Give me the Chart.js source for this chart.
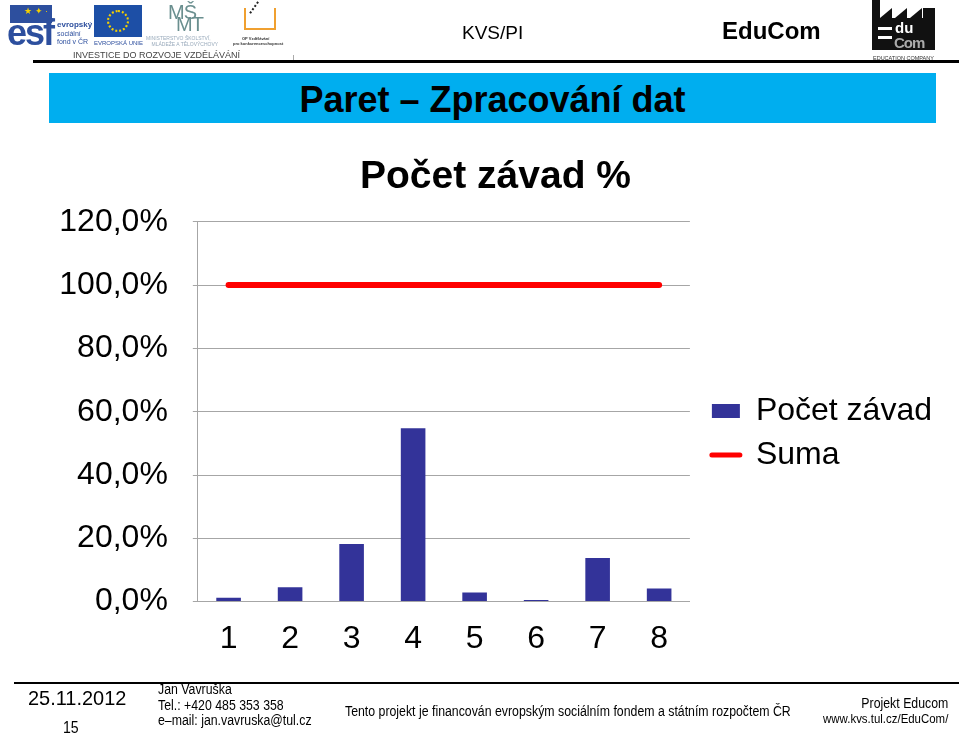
<!DOCTYPE html>
<html>
<head>
<meta charset="utf-8">
<script src="https://cdn.jsdelivr.net/npm/chart.js@4.4.1/dist/chart.umd.min.js"></script>
<style>
  html, body { margin: 0; padding: 0; background: #fff; }
  #slide { position: relative; width: 959px; height: 736px; overflow: hidden; font-family: "Liberation Sans", Arial, sans-serif; }
  #chart { position: absolute; left: 0; top: 0; }
  .abs { position: absolute; white-space: nowrap; }
  .narrow { transform: scaleX(0.88); transform-origin: left top; }
  .narrowR { transform: scaleX(0.88); transform-origin: right top; }
</style>
</head>
<body>
<div id="slide">
  <canvas id="chart" width="959" height="736"></canvas>

  <!-- header -->
  <div class="abs" style="left:10px;top:5px;width:42px;height:18px;background:#2d4f9e;"></div>
  <div class="abs" style="left:24px;top:7px;font-size:9px;line-height:9px;color:#f5d000;">★ ✦ ·</div>
  <div class="abs" style="left:7px;top:15px;font:bold 36px/36px 'Liberation Sans',sans-serif;color:#2d4f9e;letter-spacing:-2px;">esf</div>
  <div class="abs" style="left:57px;top:21px;font:bold 8px/8px 'Liberation Sans',sans-serif;color:#2d4f9e;">evropský</div>
  <div class="abs" style="left:57px;top:30px;font:7px/7.5px 'Liberation Sans',sans-serif;color:#2d4f9e;">sociální<br>fond v ČR</div>
  <div class="abs" style="left:94px;top:5px;width:48px;height:32px;background:#1d4fa6;"></div>
  <div class="abs" style="left:107px;top:10px;width:18px;height:18px;border:2px dotted #f5d000;border-radius:50%;"></div>
  <div class="abs" style="left:94px;top:40px;font:6px/6px 'Liberation Sans',sans-serif;color:#2d4f9e;">EVROPSKÁ UNIE</div>
  <div class="abs" style="left:168px;top:2px;font:20px/20px 'Liberation Sans',sans-serif;color:#6a8f8f;letter-spacing:-1px;">MŠ</div>
  <div class="abs" style="left:176px;top:14px;font:20px/20px 'Liberation Sans',sans-serif;color:#6a8f8f;letter-spacing:-1px;">MT</div>
  <div class="abs" style="left:146px;top:35px;font:5px/6px 'Liberation Sans',sans-serif;color:#9ab;">MINISTERSTVO ŠKOLSTVÍ,<br>&nbsp;&nbsp;&nbsp;&nbsp;MLÁDEŽE A TĚLOVÝCHOVY</div>
  <div class="abs" style="left:244px;top:8px;width:28px;height:20px;border:2px solid #f0a030;border-top:none;"></div>
  <div class="abs" style="left:252px;top:4px;width:12px;height:14px;border-left:2px dotted #222;transform:rotate(35deg);"></div>
  <div class="abs" style="left:233px;top:36px;font:bold 4px/5px 'Liberation Sans',sans-serif;color:#333;">&nbsp;&nbsp;&nbsp;&nbsp;&nbsp;&nbsp;&nbsp;&nbsp;OP Vzdělávání<br>pro konkurenceschopnost</div>
  <div class="abs" style="left:73px;top:50px;font:9px/10px 'Liberation Sans',sans-serif;color:#444;">INVESTICE DO ROZVOJE VZDĚLÁVÁNÍ</div>
  <div class="abs" style="left:293px;top:55px;width:1px;height:8px;background:#aaa;"></div>
  <div class="abs" style="left:462px;top:22px;font:19px/22px 'Liberation Sans',sans-serif;color:#000;">KVS/PI</div>
  <div class="abs" style="left:722px;top:17px;font:bold 24px/28px 'Liberation Sans',sans-serif;color:#000;">EduCom</div>
  <div class="abs" style="left:872px;top:0px;width:8px;height:50px;background:#111;"></div>
  <div class="abs" style="left:872px;top:18px;width:63px;height:32px;background:#111;"></div>
  <div class="abs" style="left:880px;top:8px;width:0;height:0;border-left:12px solid transparent;border-bottom:10px solid #111;"></div>
  <div class="abs" style="left:895px;top:8px;width:0;height:0;border-left:12px solid transparent;border-bottom:10px solid #111;"></div>
  <div class="abs" style="left:910px;top:8px;width:0;height:0;border-left:12px solid transparent;border-bottom:10px solid #111;"></div>
  <div class="abs" style="left:923px;top:8px;width:12px;height:10px;background:#111;"></div>
  <div class="abs" style="left:878px;top:27px;width:14px;height:3px;background:#fff;"></div>
  <div class="abs" style="left:878px;top:36px;width:14px;height:3px;background:#fff;"></div>
  <div class="abs" style="left:895px;top:20px;font:bold 15px/15px 'Liberation Sans',sans-serif;color:#fff;">du</div>
  <div class="abs" style="left:894px;top:35px;font:bold 15px/15px 'Liberation Sans',sans-serif;color:#aaa;letter-spacing:-1px;">Com</div>
  <div class="abs" style="left:873px;top:55px;font:5.5px/6px 'Liberation Sans',sans-serif;color:#333;">EDUCATION COMPANY</div>
  <div class="abs" style="left:33px;top:60px;width:926px;height:3px;background:#000;"></div>
  <div class="abs" style="left:49px;top:73px;width:887px;height:50px;background:#00aeef;"></div>
  <div class="abs" style="left:49px;top:73px;width:887px;height:50px;line-height:54px;text-align:center;font-weight:bold;font-size:36px;color:#000;">Paret – Zpracování dat</div>

  <!-- footer -->
  <div class="abs" style="left:14px;top:682px;width:945px;height:2px;background:#000;"></div>
  <div class="abs" style="left:28px;top:686px;font:21px/24px 'Liberation Sans',sans-serif;transform:scaleX(0.95);transform-origin:left top;">25.11.2012</div>
  <div class="abs narrow" style="left:63px;top:719px;font:16px/18px 'Liberation Sans',sans-serif;">15</div>
  <div class="abs narrow" style="left:158px;top:682px;font:14px/15.5px 'Liberation Sans',sans-serif;">Jan Vavruška<br>Tel.: +420 485 353 358<br>e–mail: jan.vavruska@tul.cz</div>
  <div class="abs narrow" style="left:345px;top:703px;font:14px/16px 'Liberation Sans',sans-serif;">Tento projekt je financován evropským sociálním fondem a státním rozpočtem ČR</div>
  <div class="abs narrowR" style="right:11px;top:696px;text-align:right;font:14px/15px 'Liberation Sans',sans-serif;">Projekt Educom<br><span style="font-size:13px;">www.kvs.tul.cz/EduCom/</span></div>
</div>

<script>
const categories = ['1', '2', '3', '4', '5', '6', '7', '8'];
const pocetZavad = [1.2, 4.5, 18.2, 54.8, 2.9, 0.5, 13.8, 4.1];
const suma = [100, 100, 100, 100, 100, 100, 100, 100];
const yTicks = [0, 20, 40, 60, 80, 100, 120];

const fontFamily = "'Liberation Sans', Arial, sans-serif";
const gridColor = '#a6a6a6';

new Chart(document.getElementById('chart'), {
  data: {
    labels: categories,
    datasets: [
      {
        type: 'bar',
        label: 'Počet závad',
        data: pocetZavad,
        backgroundColor: '#333399',
        borderWidth: 0,
        barPercentage: 0.4,
        categoryPercentage: 1
      },
      {
        type: 'line',
        label: 'Suma',
        data: suma,
        borderColor: '#ff0000',
        borderWidth: 6,
        borderCapStyle: 'round',
        pointRadius: 0,
        fill: false
      }
    ]
  },
  options: {
    responsive: false,
    animation: false,
    layout: { padding: { left: 49, right: 17, top: 140, bottom: 60 } },
    plugins: {
      tooltip: { enabled: false },
      title: {
        display: true,
        text: 'Počet závad %',
        color: '#000',
        font: { family: fontFamily, size: 39, weight: 'bold' },
        padding: { top: 14, bottom: 21 }
      },
      legend: {
        position: 'right',
        fullSize: false,
        maxWidth: 300,
        // empty title just pushes the items down a bit
        title: { display: true, text: ' ', padding: 14, font: { size: 12 } },
        labels: {
          color: '#000',
          font: { family: fontFamily, size: 32 },
          usePointStyle: true,
          pointStyleWidth: 28,
          boxHeight: 14,
          padding: 12,
          generateLabels(chart) {
            return chart.data.datasets.map((ds, i) => ({
              text: ds.label,
              datasetIndex: i,
              fontColor: '#000',
              fillStyle: ds.type === 'bar' ? ds.backgroundColor : ds.borderColor,
              strokeStyle: ds.type === 'bar' ? ds.backgroundColor : ds.borderColor,
              lineWidth: ds.type === 'bar' ? 0 : 5,
              lineCap: 'round',
              pointStyle: ds.type === 'bar' ? 'rect' : 'line',
              hidden: false
            }));
          }
        }
      }
    },
    scales: {
      x: {
        offset: true,
        grid: { display: false, drawTicks: false },
        border: { display: true, color: gridColor },
        ticks: { color: '#000', font: { family: fontFamily, size: 32 }, padding: 18 }
      },
      y: {
        min: 0,
        max: 120,
        afterBuildTicks(axis) { axis.ticks = yTicks.map(v => ({ value: v })); },
        grid: { color: gridColor, tickLength: 5 },
        border: { display: true, color: gridColor },
        ticks: {
          color: '#000',
          font: { family: fontFamily, size: 32 },
          padding: 25,
          callback: v => v.toFixed(1).replace('.', ',') + '%'
        }
      },
      // blank spacer between plot and legend
      gap: {
        position: 'right',
        min: 0,
        max: 120,
        grid: { display: false, drawTicks: true, tickLength: 10 },
        border: { display: false },
        ticks: { display: false }
      }
    }
  }
});
</script>
</body>
</html>
